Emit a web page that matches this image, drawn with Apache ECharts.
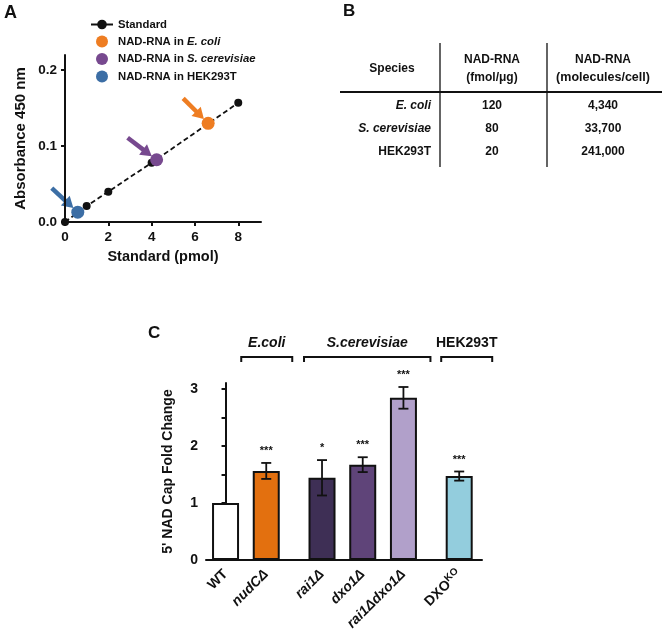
<!DOCTYPE html>
<html>
<head>
<meta charset="utf-8">
<script src="https://cdn.jsdelivr.net/npm/echarts@6/dist/echarts.min.js"></script>
<style>
html, body { margin: 0; padding: 0; background: #fff; }
#main { width: 662px; height: 631px; }
</style>
</head>
<body>
<div id="main"></div>
<script>
// ---- panel A: standard curve ----
var stdX = [0, 1, 2, 4, 8];
var stdY = [0, 0.021, 0.040, 0.078, 0.157];
var sampleNames = ['E. coli', 'S. cerevisiae', 'HEK293T'];
var sampleX = [6.61, 4.23, 0.59];
var sampleY = [0.130, 0.082, 0.013];
var sampleColors = ['#EE7D22', '#77498F', '#3C6EA5'];
var aXTicks = [0, 2, 4, 6, 8];
var aYTicks = [0, 0.1, 0.2];

// ---- panel B: table ----
var tableSpecies = ['E. coli', 'S. cerevisiae', 'HEK293T'];
var tableFmol = ['120', '80', '20'];
var tableMolecules = ['4,340', '33,700', '241,000'];

// ---- panel C: fold change ----
var barNames = ['WT', 'nudCΔ', 'rai1Δ', 'dxo1Δ', 'rai1Δdxo1Δ', 'DXOKO'];
var barValues = [1.0, 1.56, 1.44, 1.67, 2.84, 1.47];
var barErrors = [0, 0.14, 0.31, 0.13, 0.19, 0.08];
var barStars = ['', '***', '*', '***', '***', '***'];
var barGroup = [0, 0, 1, 1, 1, 2];
var barColors = ['#FFFFFF', '#E3700F', '#3E2F55', '#5F4479', '#B1A0CA', '#93CDDD'];
var groupLabels = ['E.coli', 'S.cerevisiae', 'HEK293T'];
var cYTicks = [0, 0.5, 1, 1.5, 2, 2.5, 3];
var cYLabels = [0, 1, 2, 3];

var FONT = '"Liberation Sans", Arial, sans-serif';
var GROUP_GAP = 0.37;
var barPos = barNames.map(function (n, i) { return i + GROUP_GAP * barGroup[i]; });

var chart = echarts.init(document.getElementById('main'));

function axisBase() {
  return {
    axisLine: { lineStyle: { color: '#111', width: 2 } },
    axisTick: { show: true, length: 4, lineStyle: { color: '#111', width: 2 } },
    splitLine: { show: false },
    axisLabel: { color: '#111', fontWeight: 'bold', fontSize: 13.5, fontFamily: FONT },
    nameTextStyle: { color: '#111', fontWeight: 'bold', fontSize: 14, fontFamily: FONT }
  };
}

var xA = Object.assign(axisBase(), {
  type: 'value', gridIndex: 0, min: 0, max: 9.05,
  name: 'Standard (pmol)', nameLocation: 'middle', nameGap: 27
});
xA.axisLabel.customValues = aXTicks;
xA.axisTick.customValues = aXTicks;
xA.nameTextStyle.fontSize = 14.5;

var yA = Object.assign(axisBase(), {
  type: 'value', gridIndex: 0, min: 0, max: 0.22,
  name: 'Absorbance 450 nm', nameLocation: 'middle', nameGap: 37
});
yA.axisLabel.customValues = aYTicks;
yA.axisTick.customValues = aYTicks;
yA.axisLabel.formatter = function (v) { return v.toFixed(1); };
yA.nameTextStyle.fontSize = 15;

var xC = Object.assign(axisBase(), {
  type: 'value', gridIndex: 1, min: -0.48, max: 6.3
});
xC.axisTick = { show: false };
xC.axisLabel = {
  customValues: barPos, rotate: 45, margin: 12, color: '#111',
  fontWeight: 'bold', fontSize: 14, fontFamily: FONT,
  formatter: function (v) {
    for (var i = 0; i < barPos.length; i++) {
      if (Math.abs(barPos[i] - v) < 1e-6) {
        var n = barNames[i];
        if (n === 'WT') return n;
        if (n === 'DXOKO') return 'DXO{sup|KO}';
        return '{it|' + n + '}';
      }
    }
    return '';
  },
  rich: {
    it: { fontStyle: 'italic', fontWeight: 'bold', fontSize: 14, fontFamily: FONT, color: '#111' },
    sup: { fontWeight: 'bold', fontSize: 10, fontFamily: FONT, color: '#111', verticalAlign: 'top', padding: [0, 0, 7, 0] }
  }
};

var yC = Object.assign(axisBase(), {
  type: 'value', gridIndex: 1, min: 0, max: 3.1,
  name: "5' NAD Cap Fold Change", nameLocation: 'middle', nameGap: 31
});
yC.axisLabel.customValues = cYLabels;
yC.axisLabel.fontSize = 14;
yC.axisTick.customValues = cYTicks;

var sampleSeries = sampleNames.map(function (n, i) {
  return {
    name: 'NAD-RNA in ' + n, type: 'scatter', xAxisIndex: 0, yAxisIndex: 0,
    symbolSize: 13, itemStyle: { color: sampleColors[i], opacity: 1 }, z: 5,
    data: [[sampleX[i], sampleY[i]]]
  };
});

var option = {
  animation: false,
  backgroundColor: '#fff',
  grid: [
    { left: 65, top: 55, width: 196, height: 167, outerBoundsMode: 'none' },
    { left: 206, top: 383, width: 276, height: 177, outerBoundsMode: 'none' }
  ],
  legend: {
    orient: 'vertical', left: 85, top: 14, itemGap: 5.5,
    itemWidth: 22, itemHeight: 12,
    textStyle: { color: '#111', fontWeight: 'bold', fontSize: 11.3, fontFamily: FONT,
      rich: { it: { fontStyle: 'italic', fontWeight: 'bold', fontSize: 11.3, fontFamily: FONT, color: '#111' } } },
    formatter: function (name) {
      return name.replace(/(E\. coli|S\. cerevisiae)/, '{it|$1}');
    },
    data: [
      { name: 'Standard', lineStyle: { type: 'solid', width: 2 } },
      'NAD-RNA in E. coli', 'NAD-RNA in S. cerevisiae', 'NAD-RNA in HEK293T'
    ]
  },
  xAxis: [xA, xC],
  yAxis: [yA, yC],
  series: [
    {
      name: 'Standard', type: 'line', xAxisIndex: 0, yAxisIndex: 0,
      symbol: 'circle', symbolSize: 8, itemStyle: { color: '#111' },
      lineStyle: { color: '#111', width: 1.8, type: [5, 3] },
      data: stdX.map(function (x, i) { return [x, stdY[i]]; })
    }
  ].concat(sampleSeries, [
    {
      name: 'fold', type: 'bar', xAxisIndex: 1, yAxisIndex: 1, barWidth: 27,
      data: barPos.map(function (p, i) {
        return { value: [p, barValues[i]], itemStyle: { color: barColors[i], borderColor: '#111', borderWidth: 2 } };
      })
    },
    {
      name: 'err', type: 'custom', xAxisIndex: 1, yAxisIndex: 1, z: 10,
      data: barPos.map(function (p, i) { return [p, barValues[i], barErrors[i], i]; }),
      renderItem: function (params, api) {
        var x = api.value(0), v = api.value(1), e = api.value(2), i = api.value(3);
        var hi = api.coord([x, v + e]), lo = api.coord([x, v - e]);
        var st = { stroke: '#111', lineWidth: 1.8 };
        var kids = [];
        if (e > 0) {
          kids.push({ type: 'line', shape: { x1: hi[0], y1: hi[1], x2: lo[0], y2: lo[1] }, style: st });
          kids.push({ type: 'line', shape: { x1: hi[0] - 5, y1: hi[1], x2: hi[0] + 5, y2: hi[1] }, style: st });
          kids.push({ type: 'line', shape: { x1: lo[0] - 5, y1: lo[1], x2: lo[0] + 5, y2: lo[1] }, style: st });
        }
        if (barStars[i]) {
          kids.push({ type: 'text', style: { text: barStars[i], x: hi[0], y: hi[1] - 12,
            align: 'center', verticalAlign: 'middle', fill: '#111', font: 'bold 11px ' + FONT } });
        }
        return { type: 'group', children: kids };
      }
    }
  ])
};

chart.setOption(option);

// ---- annotations: arrows, brackets, table, panel letters ----
var g = [];
function txt(s, x, y, opt) {
  opt = opt || {};
  g.push({ type: 'text', style: {
    text: s, x: x, y: y, fill: '#111', align: opt.align || 'center', verticalAlign: 'middle',
    font: (opt.italic ? 'italic ' : '') + 'bold ' + (opt.size || 12) + 'px ' + FONT
  } });
}
function line(x1, y1, x2, y2, w) {
  g.push({ type: 'line', shape: { x1: x1, y1: y1, x2: x2, y2: y2 }, style: { stroke: '#111', lineWidth: w } });
}

// arrows pointing at each sample dot
var arrowFrom = [[-25, -25], [-29, -22], [-26, -24]];
sampleNames.forEach(function (n, i) {
  var p = chart.convertToPixel({ gridIndex: 0 }, [sampleX[i], sampleY[i]]);
  var sx = p[0] + arrowFrom[i][0], sy = p[1] + arrowFrom[i][1];
  var dx = p[0] - sx, dy = p[1] - sy, len = Math.sqrt(dx * dx + dy * dy);
  var ux = dx / len, uy = dy / len;
  var tx = p[0] - ux * 6, ty = p[1] - uy * 6;
  var bx = tx - ux * 11, by = ty - uy * 11;
  g.push({ type: 'line', shape: { x1: sx, y1: sy, x2: bx + ux, y2: by + uy },
    style: { stroke: sampleColors[i], lineWidth: 4.5 } });
  g.push({ type: 'polygon', shape: { points: [[tx, ty], [bx - uy * 6.5, by + ux * 6.5], [bx + uy * 6.5, by - ux * 6.5]] },
    style: { fill: sampleColors[i] } });
});

// group brackets above panel C
var bracketIdx = [[1, 1], [2, 4], [5, 5]];
var bracketPad = [[-25, 26], [-18, 27], [-18, 33]];
bracketIdx.forEach(function (b, k) {
  var x1 = chart.convertToPixel({ gridIndex: 1 }, [barPos[b[0]], 0])[0] + bracketPad[k][0];
  var x2 = chart.convertToPixel({ gridIndex: 1 }, [barPos[b[1]], 0])[0] + bracketPad[k][1];
  var y = 357;
  g.push({ type: 'polyline', shape: { points: [[x1, y + 5], [x1, y], [x2, y], [x2, y + 5]] },
    style: { stroke: '#111', lineWidth: 2, fill: null } });
  txt(groupLabels[k], (x1 + x2) / 2, 343, { size: 14, italic: k < 2 });
});

// table (panel B)
line(440, 43, 440, 167, 1.3);
line(547, 43, 547, 167, 1.3);
line(340, 92, 662, 92, 2.2);
txt('Species', 392, 69);
txt('NAD-RNA', 492, 60);
txt('(fmol/μg)', 492, 78);
txt('NAD-RNA', 603, 60);
txt('(molecules/cell)', 603, 78, { size: 12.5 });
var rowY = [106, 129, 152];
tableSpecies.forEach(function (s, i) {
  txt(s, 431, rowY[i], { align: 'right', italic: i < 2 });
  txt(tableFmol[i], 492, rowY[i]);
  txt(tableMolecules[i], 603, rowY[i]);
});

// panel letters
txt('A', 4, 13, { size: 18, align: 'left' });
txt('B', 343, 11, { size: 17, align: 'left' });
txt('C', 148, 333, { size: 17, align: 'left' });

chart.setOption({ graphic: g });
</script>
</body>
</html>
